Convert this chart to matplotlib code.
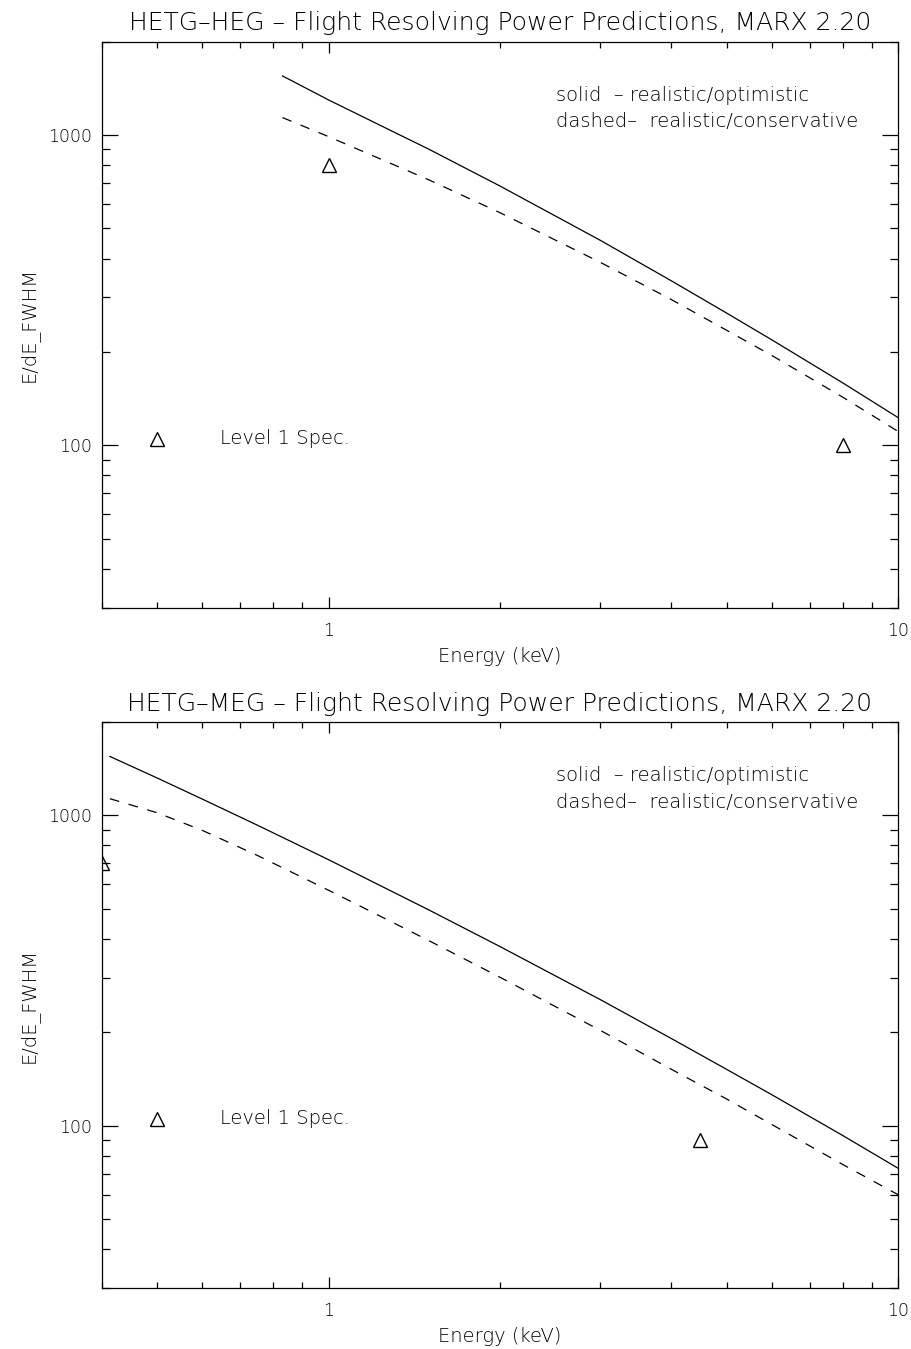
import numpy as np
import matplotlib
matplotlib.use('Agg')
import matplotlib.pyplot as plt
from matplotlib.ticker import LogLocator, NullFormatter, FuncFormatter

plt.rcParams['font.family'] = ['DejaVu Sans']
plt.rcParams['lines.scale_dashes'] = False

# HEG panel
heg_energy = [0.83, 1.0, 1.5, 2.0, 3.0, 4.0, 5.0, 6.0, 8.0, 10.0]
heg_solid = [1550, 1297, 900, 685, 458, 339, 267, 219, 159, 123]
heg_dashed = [1138, 988, 717, 562, 389, 295, 235, 195, 143, 111]
heg_level1_e = [1.0, 8.0]
heg_level1_r = [800, 100]

# MEG panel
meg_energy = [0.413, 0.5, 0.6, 0.75, 1.0, 1.5, 2.0, 3.0, 4.0, 5.0, 6.0, 8.0, 10.0]
meg_solid = [1549, 1320, 1129, 930, 720, 496, 378, 255, 191, 152, 126, 93, 73]
meg_dashed = [1132, 1020, 895, 743, 574, 395, 301, 203, 152, 122, 101, 75, 60]
meg_level1_e = [0.4, 4.5]
meg_level1_r = [700, 90]

key_e = 0.5
key_r = 105

panels = [
    ('HETG\u2013HEG \u2013 Flight Resolving Power Predictions, MARX 2.20',
     heg_energy, heg_solid, heg_dashed, heg_level1_e, heg_level1_r),
    ('HETG\u2013MEG \u2013 Flight Resolving Power Predictions, MARX 2.20',
     meg_energy, meg_solid, meg_dashed, meg_level1_e, meg_level1_r),
]

fig = plt.figure(figsize=(9.12, 13.49), dpi=100)
boxes = [[0.1118, 0.5495, 0.8728, 0.4197], [0.1118, 0.0452, 0.8728, 0.4196]]

fs = 14
nfs = 12.5
fw = 200
for box, (title, e, solid, dashed, l1e, l1r) in zip(boxes, panels):
    ax = fig.add_axes(box)
    ax.set_xscale('log')
    ax.set_yscale('log')
    ax.plot(e, solid, color='black', lw=0.9)
    ax.plot(e, dashed, color='black', lw=0.9, dashes=(7, 7))
    ax.plot(l1e, l1r, ls='none', marker='^', ms=9.5, mfc='none', mec='black', mew=1.0)
    ax.plot([key_e], [key_r], ls='none', marker='^', ms=9.5, mfc='none', mec='black', mew=1.0)
    ax.text(0.148, 0.2997, 'Level 1 Spec.', transform=ax.transAxes, fontsize=fs,
            fontweight=fw, va='center', ha='left')
    ax.text(0.570, 0.9055, 'solid  \u2013 realistic/optimistic', transform=ax.transAxes,
            fontsize=fs, fontweight=fw, va='center', ha='left')
    ax.text(0.570, 0.858, 'dashed\u2013  realistic/conservative', transform=ax.transAxes,
            fontsize=fs, fontweight=fw, va='center', ha='left')

    ax.set_xlim(0.4, 10)
    ax.set_ylim(30, 2000)
    ax.set_title(title, fontsize=18, fontweight=fw, pad=8)
    ax.set_xlabel('Energy (keV)', fontsize=fs, fontweight=fw, labelpad=5)
    ax.set_ylabel('E/dE_FWHM', fontsize=fs, fontweight=fw, labelpad=7)

    for axis in (ax.xaxis, ax.yaxis):
        axis.set_major_locator(LogLocator(base=10))
        axis.set_minor_locator(LogLocator(base=10, subs=np.arange(2, 10)))
        axis.set_major_formatter(FuncFormatter(lambda v, p: '%g' % v))
        axis.set_minor_formatter(NullFormatter())
    ax.tick_params(which='both', direction='in', top=True, right=True, width=0.9, labelsize=nfs)
    ax.tick_params(axis='x', which='major', length=8, pad=10)
    ax.tick_params(axis='x', which='minor', length=4)
    ax.tick_params(axis='y', which='major', length=11.5, pad=7)
    ax.tick_params(axis='y', which='minor', length=5.8)
    for lab in ax.get_xticklabels() + ax.get_yticklabels():
        lab.set_fontweight(fw)
    for s in ax.spines.values():
        s.set_linewidth(0.9)

fig.savefig('out.png', dpi=100)
